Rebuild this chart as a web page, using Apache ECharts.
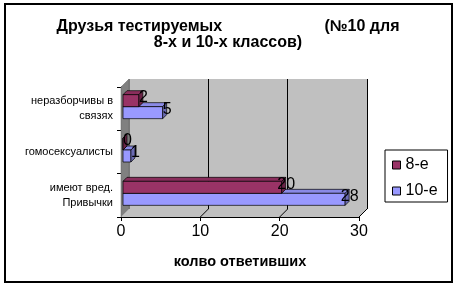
<!DOCTYPE html>
<html>
<head>
<meta charset="utf-8">
<script src="https://cdn.jsdelivr.net/npm/echarts@6/dist/echarts.min.js"></script>
<style>
html,body{margin:0;padding:0;background:#fff;}
#chart{width:456px;height:288px;}
</style>
</head>
<body>
<div id="chart"></div>
<script>
const categories = ['неразборчивы в\nсвязях', 'гомосексуалисты', 'имеют вред.\nПривычки'];
const seriesNames = ['8-е', '10-е'];
const values8 = [2, 0, 20];
const values10 = [5, 1, 28];
const xTicks = [0, 10, 20, 30];
const titleText = 'Друзья тестируемых                       (№10 для\n8-х и 10-х классов)';
const xAxisName = 'колво ответивших';

const FONT = 'Liberation Sans, Arial, sans-serif';
const D = 8;      // wall depth
const BD = 4;     // bar depth
const BS = 2;     // bar shift into depth
const BH = 12;    // bar front height

const chart = echarts.init(document.getElementById('chart'), null, {renderer: 'canvas'});

function barRenderer(yOff, front, top, side) {
  return function (params, api) {
    const v = api.value(0), c = api.value(1);
    const p0 = api.coord([0, c]);
    const p1 = api.coord([v, c]);
    const x0 = p0[0] + BS, x1 = p1[0] + BS;
    const yt = p0[1] + yOff, yb = yt + BH;
    const st = {stroke: '#000', lineWidth: 0.7};
    return {
      type: 'group',
      children: [
        {type: 'polygon', shape: {points: [[x0, yt], [x1, yt], [x1 + BD, yt - BD], [x0 + BD, yt - BD]]}, style: Object.assign({fill: top}, st)},
        {type: 'rect', shape: {x: x0, y: yt, width: x1 - x0, height: BH}, style: Object.assign({fill: front}, st)},
        {type: 'polygon', shape: {points: [[x1, yt], [x1 + BD, yt - BD], [x1 + BD, yb - BD], [x1, yb]]}, style: Object.assign({fill: side}, st)},
        {type: 'text', z2: 10, style: {text: String(v), x: x1 + 4.5, y: yt + 3, align: 'center', verticalAlign: 'middle', fill: '#000', font: '16px ' + FONT}}
      ]
    };
  };
}

function wallRenderer(params, api) {
  const cs = params.coordSys;
  const x = cs.x, y = cs.y, w = cs.width, h = cs.height;
  const children = [
    {type: 'polygon', shape: {points: [[x, y], [x + D, y - D], [x + D, y + h - D], [x, y + h]]}, style: {fill: '#808080', stroke: '#606060', lineWidth: 0.5}},
    {type: 'polygon', shape: {points: [[x, y + h], [x + w, y + h], [x + w + D, y + h - D], [x + D, y + h - D]]}, style: {fill: '#c0c0c0'}}
  ];
  xTicks.forEach(function (t, i) {
    if (i === 0) return;
    const px = api.coord([t, 0])[0];
    children.push({type: 'line', shape: {x1: px, y1: y + h, x2: px + D, y2: y + h - D}, style: {stroke: '#000', lineWidth: 1}});
  });
  return {type: 'group', children: children};
}

const option = {
  backgroundColor: '#fff',
  animation: false,
  title: {
    text: titleText,
    left: 'center',
    top: 19,
    padding: 0,
    textStyle: {fontFamily: FONT, fontSize: 16, fontWeight: 'bold', lineHeight: 16, color: '#000'}
  },
  legend: {
    orient: 'vertical',
    left: 385,
    top: 150,
    data: seriesNames,
    icon: 'rect',
    itemWidth: 8,
    itemHeight: 8,
    itemGap: 10,
    padding: [7, 10, 3, 7],
    borderColor: '#000',
    borderWidth: 1,
    backgroundColor: '#fff',
    itemStyle: {borderColor: '#000', borderWidth: 1},
    textStyle: {fontFamily: FONT, fontSize: 16, lineHeight: 16, color: '#000', padding: 0}
  },
  graphic: [{
    type: 'rect', z: -10, silent: true,
    shape: {x: 5, y: 4, width: 447, height: 278},
    style: {fill: 'none', stroke: '#000', lineWidth: 2}
  }],
  grid: [
    {left: 121 + D, top: 87 - D, width: 238, height: 130, show: true, backgroundColor: '#c0c0c0', borderWidth: 0, containLabel: false},
    {left: 121, top: 87, width: 238, height: 130, show: false, containLabel: false}
  ],
  xAxis: [
    {
      gridIndex: 0, type: 'value', min: 0, max: 30, interval: 10,
      axisLine: {show: false}, axisTick: {show: false}, axisLabel: {show: false},
      splitLine: {show: true, lineStyle: {color: ['#808080', '#000', '#000', '#000'], width: 1}}
    },
    {
      gridIndex: 1, type: 'value', min: 0, max: 30, interval: 10,
      axisLine: {show: true, lineStyle: {color: '#000', width: 1}},
      axisTick: {show: true, length: 4, lineStyle: {color: '#000'}},
      axisLabel: {show: true, fontFamily: FONT, fontSize: 16, color: '#000', margin: 7},
      splitLine: {show: false},
      name: xAxisName, nameLocation: 'middle', nameGap: 37,
      nameTextStyle: {fontFamily: FONT, fontSize: 14.5, fontWeight: 'bold', color: '#000'}
    }
  ],
  yAxis: [
    {gridIndex: 0, type: 'value', show: false, splitLine: {show: false}},
    {
      gridIndex: 1, type: 'category', data: categories, inverse: true,
      axisLine: {show: true, lineStyle: {color: '#000', width: 1}},
      axisTick: {show: true, length: 4, lineStyle: {color: '#000'}},
      axisLabel: {fontFamily: FONT, fontSize: 11, lineHeight: 15, color: '#000', margin: 8, align: 'right'},
      splitLine: {show: false}
    }
  ],
  series: [
    {
      type: 'custom', name: 'walls', xAxisIndex: 1, yAxisIndex: 1, z: 1, silent: true,
      data: [[0, 0]], renderItem: wallRenderer
    },
    {
      type: 'custom', name: seriesNames[1], xAxisIndex: 1, yAxisIndex: 1, z: 3,
      itemStyle: {color: '#9999ff'},
      data: values10.map(function (v, i) { return [v, i]; }),
      encode: {x: 0, y: 1},
      renderItem: barRenderer(-2, '#9999ff', '#8a8ae6', '#6b6bb3')
    },
    {
      type: 'custom', name: seriesNames[0], xAxisIndex: 1, yAxisIndex: 1, z: 4,
      itemStyle: {color: '#993366'},
      data: values8.map(function (v, i) { return [v, i]; }),
      encode: {x: 0, y: 1},
      renderItem: barRenderer(-14, '#993366', '#8a2e5c', '#6b2447')
    }
  ]
};
chart.setOption(option);
</script>
</body>
</html>
